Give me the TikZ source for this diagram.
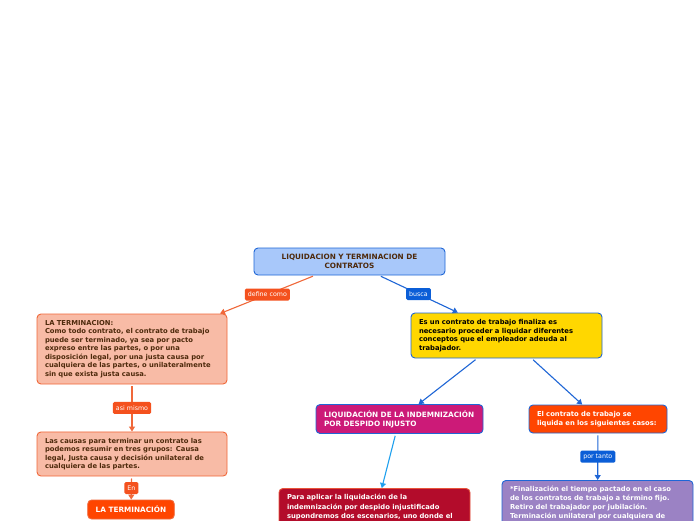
\documentclass[tikz,border=0pt]{standalone}
\usepackage{fontspec}
\setmainfont{DejaVu Sans}
\usetikzlibrary{arrows.meta}
\definecolor{rootfill}{HTML}{A8C8FA}
\definecolor{blueedge}{HTML}{1F66D6}
\definecolor{browntext}{HTML}{4E2A0C}
\definecolor{salmon}{HTML}{F8BBA6}
\definecolor{salmonedge}{HTML}{F0683A}
\definecolor{orangelab}{HTML}{F4511E}
\definecolor{bluelab}{HTML}{0B5ED7}
\definecolor{yellowfill}{HTML}{FFD700}
\definecolor{magentafill}{HTML}{CC1A78}
\definecolor{orangefill}{HTML}{FF4500}
\definecolor{darkredfill}{HTML}{B30C2B}
\definecolor{darkrededge}{HTML}{E8533A}
\definecolor{purplefill}{HTML}{9B82C4}
\definecolor{lightblue}{HTML}{1EA0EE}
\begin{document}
\begin{tikzpicture}[x=1pt,y=-1pt,
  box/.style={rounded corners=4pt, draw, line width=0.9pt, inner xsep=8pt, inner ysep=6pt,
    font=\fontsize{6.8}{8.5}\selectfont\bfseries, align=left},
  caps/.style={font=\fontsize{7.3}{8.7}\selectfont\bfseries},
  lab/.style={rounded corners=1.5pt, inner ysep=0pt, inner xsep=3pt, minimum height=12pt,
    font=\fontsize{6.3}{7}\selectfont, text=white},
  conn/.style={line width=1.1pt, -{Triangle[width=6pt,length=5pt]}, shorten <=2pt}]
\useasboundingbox (0,0) rectangle (696,520);
\clip (0,0) rectangle (696,520);
\fill[white] (0,0) rectangle (696,520);

\node[box, caps, fill=rootfill, draw=blueedge, text=browntext, text width=175pt, align=center,
  minimum height=27pt] (root) at (349.5,261.5) {LIQUIDACION Y TERMINACION DE\\CONTRATOS};

\node[box, fill=salmon, draw=salmonedge, text=browntext, text width=174pt, minimum height=70pt]
  (term) at (132,349) {LA TERMINACION:\\Como todo contrato, el contrato de trabajo\\puede ser terminado, ya sea por pacto\\expreso entre las partes, o por una\\disposición legal, por una justa causa por\\cualquiera de las partes, o unilateralmente\\sin que exista justa causa.};

\node[box, fill=salmon, draw=salmonedge, text=browntext, text width=174pt, minimum height=44pt]
  (causas) at (132,454) {Las causas para terminar un contrato las\\podemos resumir en tres grupos: Causa\\legal, Justa causa y decisión unilateral de\\cualquiera de las partes.};

\node[box, caps, fill=orangefill, draw=salmonedge, text=white, align=center, minimum width=86pt,
  minimum height=19pt, inner ysep=0pt] (laterm) at (131,509.5) {LA TERMINACIÓN};

\node[box, fill=yellowfill, draw=blueedge, text=black, text width=175pt, minimum height=45pt]
  (yellow) at (506.5,335.5) {Es un contrato de trabajo finaliza es\\necesario proceder a liquidar diferentes\\conceptos que el empleador adeuda al\\trabajador.};

\node[box, caps, fill=magentafill, draw=blueedge, text=white, text width=151pt, minimum height=28pt]
  (indem) at (399.5,419) {LIQUIDACIÓN DE LA INDEMNIZACIÓN\\POR DESPIDO INJUSTO};

\node[box, fill=orangefill, draw=blueedge, text=white, text width=122pt, minimum height=28pt]
  (casos) at (598,419) {El contrato de trabajo se\\liquida en los siguientes casos:};

\node[box, fill=darkredfill, draw=darkrededge, text=white, text width=175pt, anchor=north,
  font=\fontsize{6.8}{9.2}\selectfont\bfseries]
  (aplicar) at (374.5,488) {Para aplicar la liquidación de la\\indemnización por despido injustificado\\supondremos dos escenarios, uno donde el\\[11pt]\mbox{}};

\node[box, fill=purplefill, draw=blueedge, text=white, text width=175pt, anchor=north,
  font=\fontsize{6.8}{9}\selectfont\bfseries]
  (lista) at (597.5,480) {*Finalización el tiempo pactado en el caso\\de los contratos de trabajo a término fijo.\\*Retiro del trabajador por jubilación.\\*Terminación unilateral por cualquiera de\\[14pt]\mbox{}};

\draw[conn, salmonedge] (root) -- node[lab, fill=orangelab]{define como} (term);
\draw[conn, salmonedge] (term) -- node[lab, fill=orangelab]{asi mismo} (causas);
\draw[conn, salmonedge] (causas) -- node[lab, fill=orangelab]{En} (laterm);
\draw[conn, blueedge] (root) -- node[lab, fill=bluelab]{busca} (yellow);
\draw[conn, blueedge] (yellow) -- (indem);
\draw[conn, blueedge] (yellow) -- (casos);
\draw[conn, lightblue] (indem) -- (aplicar);
\draw[conn, blueedge] (casos) -- node[lab, fill=bluelab]{por tanto} (lista);
\end{tikzpicture}
\end{document}
